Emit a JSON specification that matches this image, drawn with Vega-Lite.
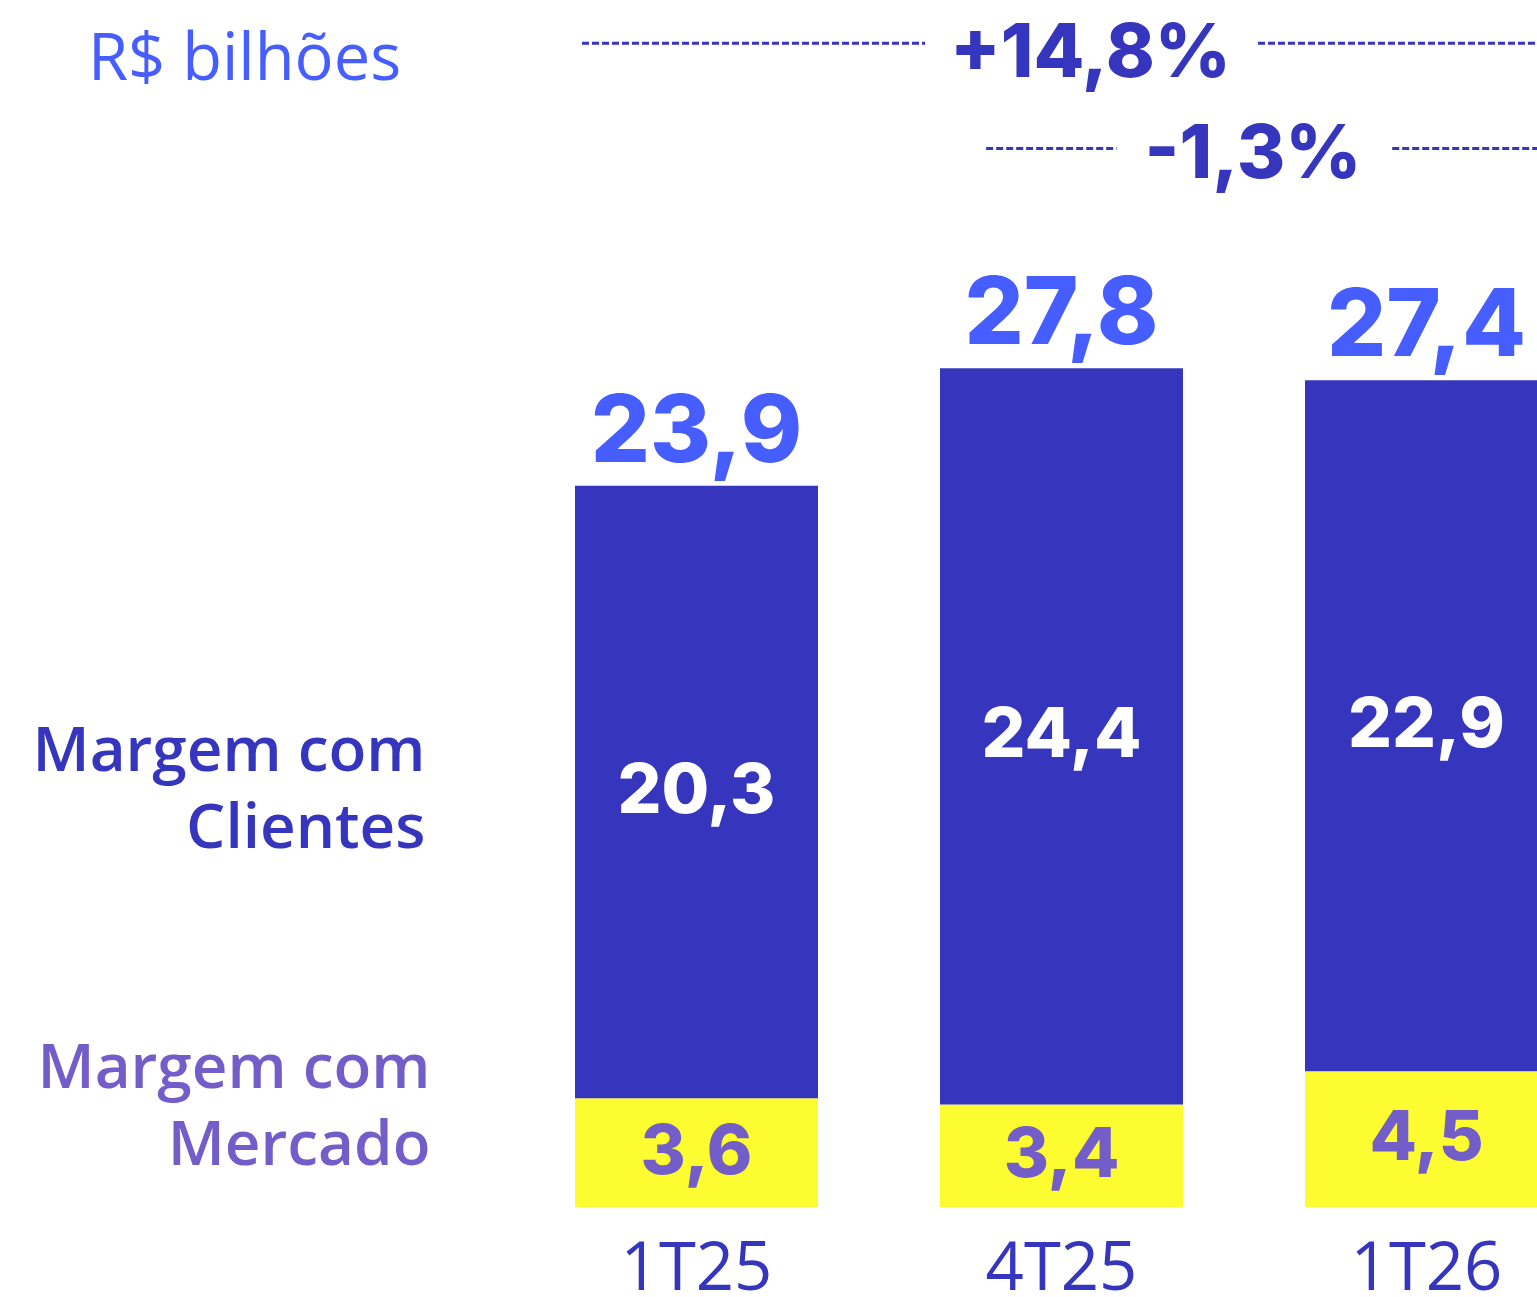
{
  "$schema": "https://vega.github.io/schema/vega-lite/v6.json",
  "width": 1537,
  "height": 1207,
  "autosize": {"type": "none"},
  "padding": {"left": 0, "top": 0, "right": 0, "bottom": 90},
  "background": "white",
  "config": {
    "view": {"stroke": null},
    "locale": {"number": {"decimal": ",", "thousands": ".", "grouping": [3], "currency": ["R$ ", ""]}}
  },
  "data": {
    "values": [
      {"q": "1T25", "seg": "Margem com\nMercado", "v": 3.6},
      {"q": "1T25", "seg": "Margem com\nClientes", "v": 20.3},
      {"q": "4T25", "seg": "Margem com\nMercado", "v": 3.4},
      {"q": "4T25", "seg": "Margem com\nClientes", "v": 24.4},
      {"q": "1T26", "seg": "Margem com\nMercado", "v": 4.5},
      {"q": "1T26", "seg": "Margem com\nClientes", "v": 22.9}
    ]
  },
  "encoding": {
    "x": {
      "field": "q",
      "type": "ordinal",
      "sort": ["1T25", "4T25", "1T26"],
      "scale": {"range": [575, 1548], "paddingInner": 0.33425, "paddingOuter": 0},
      "axis": {
        "title": null,
        "domain": false,
        "ticks": false,
        "labelAngle": 0,
        "labelFont": "Open Sans",
        "labelFontSize": 67,
        "labelColor": "#3535BD",
        "labelBaseline": "alphabetic",
        "labelPadding": 82
      }
    }
  },
  "layer": [
    {
      "mark": {"type": "bar"},
      "encoding": {
        "y": {"field": "v", "type": "quantitative", "stack": "zero", "scale": {"domain": [0, 40], "nice": false, "zero": true}, "axis": null},
        "color": {
          "field": "seg",
          "type": "nominal",
          "scale": {"domain": ["Margem com\nClientes", "Margem com\nMercado"], "range": ["#3535BD", "#FCFC30"]},
          "legend": null
        },
        "order": {"field": "seg", "sort": "descending"}
      }
    },
    {
      "mark": {"type": "text", "font": "Inter", "fontWeight": 800, "fontSize": 69, "baseline": "middle"},
      "encoding": {
        "y": {"field": "v", "type": "quantitative", "stack": "zero", "bandPosition": 0.5},
        "detail": {"field": "seg"},
        "order": {"field": "seg", "sort": "descending"},
        "text": {"field": "v", "type": "quantitative", "format": ",.1f"},
        "color": {"condition": {"test": "indexof(datum.seg, 'Mercado') >= 0", "value": "#735DC8"}, "value": "#FFFFFF"}
      }
    },
    {
      "transform": [{"aggregate": [{"op": "sum", "field": "v", "as": "total"}], "groupby": ["q"]}],
      "mark": {"type": "text", "font": "Inter", "fontWeight": 800, "fontSize": 93, "baseline": "alphabetic", "dy": -24, "color": "#465EFF"},
      "encoding": {
        "y": {"field": "total", "type": "quantitative"},
        "text": {"field": "total", "type": "quantitative", "format": ",.1f"}
      }
    },
    {
      "transform": [{"filter": "datum.q === '1T25'"}],
      "mark": {"type": "text", "font": "Open Sans", "fontWeight": 600, "fontSize": 62, "align": "right", "baseline": "middle", "lineBreak": "\n", "lineHeight": 77, "dx": -271, "dy": -40},
      "encoding": {
        "y": {"field": "v", "type": "quantitative", "stack": "zero", "bandPosition": 0.5},
        "detail": {"field": "seg"},
        "order": {"field": "seg", "sort": "descending"},
        "text": {"condition": {"test": "indexof(datum.seg, 'Mercado') >= 0", "value": ""}, "field": "seg"},
        "color": {"value": "#3535BD"}
      }
    },
    {
      "transform": [{"filter": "datum.q === '1T25' && indexof(datum.seg, 'Mercado') >= 0"}],
      "mark": {"type": "text", "font": "Open Sans", "fontWeight": 600, "fontSize": 62, "align": "right", "baseline": "middle", "lineBreak": "\n", "lineHeight": 77, "dx": -266, "dy": -29, "color": "#735DC8"},
      "encoding": {
        "y": {"field": "v", "type": "quantitative"},
        "text": {"field": "seg"}
      }
    },
    {
      "data": {"values": [{"t": "R$ bilhões"}]},
      "mark": {"type": "text", "font": "Open Sans", "fontSize": 65, "align": "left", "baseline": "alphabetic", "dx": -487, "color": "#465EFF"},
      "encoding": {
        "x": {"datum": "1T25", "bandPosition": 0},
        "y": {"datum": 37.35},
        "text": {"field": "t"}
      }
    },
    {
      "data": {"values": [{"t": "+14,8%"}]},
      "mark": {"type": "rule", "strokeDash": [7, 3], "strokeWidth": 3, "color": "#3535BD", "xOffset": 7, "x2Offset": -15},
      "encoding": {
        "x": {"datum": "1T25", "bandPosition": 0},
        "x2": {"datum": "4T25", "bandPosition": 0},
        "y": {"datum": 38.57}
      }
    },
    {
      "data": {"values": [{"t": "+14,8%"}]},
      "mark": {"type": "rule", "strokeDash": [7, 3], "strokeWidth": 3, "color": "#3535BD", "xOffset": 75},
      "encoding": {
        "x": {"datum": "4T25", "bandPosition": 1},
        "x2": {"datum": "1T26", "bandPosition": 1},
        "y": {"datum": 38.57}
      }
    },
    {
      "data": {"values": [{"t": "+14,8%"}]},
      "mark": {"type": "text", "font": "Inter", "fontWeight": 800, "fontSize": 74, "align": "center", "baseline": "alphabetic", "dx": 29, "color": "#3535BD"},
      "encoding": {
        "x": {"datum": "4T25", "bandPosition": 0.5},
        "y": {"datum": 37.45},
        "text": {"field": "t"}
      }
    },
    {
      "data": {"values": [{"t": "-1,3%"}]},
      "mark": {"type": "rule", "strokeDash": [7, 3], "strokeWidth": 3, "color": "#3535BD"},
      "encoding": {
        "x": {"datum": "4T25", "bandPosition": 0.19},
        "x2": {"datum": "4T25", "bandPosition": 0.727},
        "y": {"datum": 35.08}
      }
    },
    {
      "data": {"values": [{"t": "-1,3%"}]},
      "mark": {"type": "rule", "strokeDash": [7, 3], "strokeWidth": 3, "color": "#3535BD", "xOffset": -10},
      "encoding": {
        "x": {"datum": "1T26", "bandPosition": 0.4},
        "x2": {"datum": "1T26", "bandPosition": 1},
        "y": {"datum": 35.08}
      }
    },
    {
      "data": {"values": [{"t": "-1,3%"}]},
      "mark": {"type": "text", "font": "Inter", "fontWeight": 800, "fontSize": 74, "align": "center", "baseline": "alphabetic", "dx": -52, "color": "#3535BD"},
      "encoding": {
        "x": {"datum": "1T26", "bandPosition": 0},
        "y": {"datum": 34.1},
        "text": {"field": "t"}
      }
    }
  ]
}
